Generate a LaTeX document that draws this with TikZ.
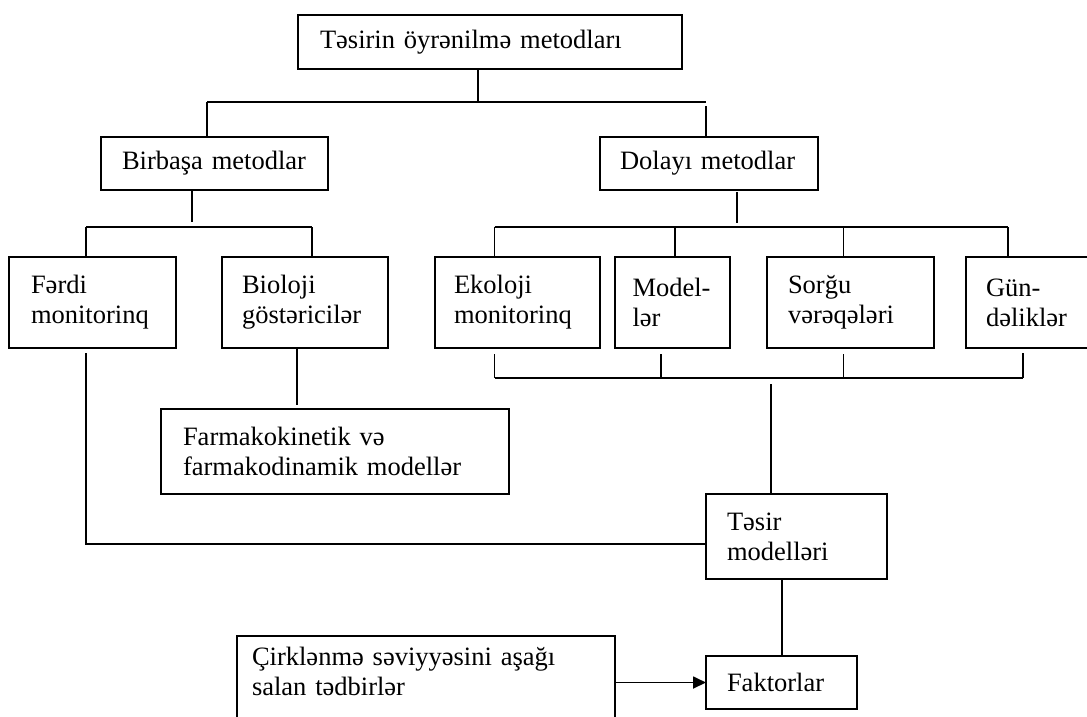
\documentclass[tikz,border=0pt]{standalone}
\usepackage{fontspec}
\setmainfont{Liberation Serif}
\usetikzlibrary{arrows.meta}
\begin{document}
\begin{tikzpicture}[x=1pt,y=-1pt,
  every node/.style={outer sep=0pt},
  box/.style={draw, line width=1.8pt, anchor=north west, align=left,
    inner ysep=0pt, font=\fontsize{26.5}{30}\selectfont},
  link/.style={line width=1.8pt},
  arrow/.style={link, -{Triangle[length=13pt,width=12pt]}}]
\useasboundingbox (0,0) rectangle (1087,716);
\fill[white] (0,0) rectangle (1087,716);

% boxes
\node[box, inner xsep=22pt, text width=340pt, minimum height=54pt] (top) at (298,15) {Təsirin öyrənilmə metodları};
\node[box, inner xsep=21pt, text width=185pt, minimum height=53pt] (birb) at (101,137) {Birbaşa metodlar};
\node[box, inner xsep=20pt, text width=178pt, minimum height=53pt] (dolay) at (600,137) {Dolayı metodlar};

\node[box, inner xsep=22pt, text width=123pt, minimum height=91pt] (ferdi) at (9,257) {Fərdi\\monitorinq};
\node[box, inner xsep=20pt, text width=126pt, minimum height=91pt] (bio) at (222,257) {Bioloji\\göstəricilər};
\node[box, inner xsep=19pt, text width=127pt, minimum height=91pt] (eko) at (435,257) {Ekoloji\\monitorinq};
\node[box, inner xsep=17.5pt, text width=80pt, minimum height=91pt] (model) at (615,257) {\mbox{Model-}\\lər};
\node[box, inner xsep=21pt, text width=125pt, minimum height=91pt] (sorgu) at (767,257) {Sorğu\\vərəqələri};
\node[box, inner xsep=20pt, text width=84pt, minimum height=91pt] (gun) at (966,257) {\mbox{Gün-}\\dəliklər};

\node[box, inner xsep=22pt, text width=304pt, minimum height=85pt] (farm) at (161,409) {Farmakokinetik və\\farmakodinamik modellər};
\node[box, inner xsep=21pt, text width=139pt, minimum height=85pt] (tesir) at (706,494) {Təsir\\modelləri};
\node[box, inner xsep=21pt, text width=109pt, minimum height=53pt] (fakt) at (706,656) {Faktorlar};
\node[box, draw=none, inner xsep=15pt, text width=348pt, minimum height=71pt] (cirk) at (237,636) {Çirklənmə səviyyəsini aşağı\\salan tədbirlər};
% the lower box runs past the bottom edge
\draw[link] ([yshift=-40pt]cirk.south west) -- (cirk.north west) -- (cirk.north east) -- ([yshift=-40pt]cirk.south east);

% junction points
\coordinate (jT) at (478,102);
\coordinate (jTL) at (207,102);
\coordinate (jTR) at (706,102);
\coordinate (jB) at (192,227);
\coordinate (jBL) at (86,227);
\coordinate (jBR) at (312,227);
\coordinate (jD) at (737,227);
\coordinate (jD1) at (494.5,227);
\coordinate (jD2) at (675,227);
\coordinate (jD3) at (843.5,227);
\coordinate (jD4) at (1008,227);
\coordinate (jE1) at (494.5,378);
\coordinate (jE2) at (661,378);
\coordinate (jE3) at (843.5,378);
\coordinate (jE4) at (1023,378);
\coordinate (jS) at (771,378);
\coordinate (jF) at (86,544);
\coordinate (jBio) at (297,0);
\coordinate (jFk) at (782,0);

% top level
\draw[link] (top.south -| jT) -- (jT);
\draw[link] (jTL) -- (jTR);
\draw[link] (jTL) -- (jTL |- birb.north);
\draw[link, shorten <=4pt] (jTR) -- (jTR |- dolay.north);

% direct methods
\draw[link, shorten >=5pt] (birb.south -| jB) -- (jB);
\draw[link] (jBL) -- (jBR);
\draw[link] (jBL) -- (jBL |- ferdi.north);
\draw[link] (jBR) -- (jBR |- bio.north);

% indirect methods
\draw[link, shorten <=2pt, shorten >=4pt] (dolay.south -| jD) -- (jD);
\draw[link] (jD1) -- (jD4);
\draw[link] (jD1) -- (jD1 |- eko.north);
\draw[link] (jD2) -- (jD2 |- model.north);
\draw[link] (jD3) -- (jD3 |- sorgu.north);
\draw[link] (jD4) -- (jD4 |- gun.north);

\draw[link, shorten <=6pt] (eko.south -| jE1) -- (jE1);
\draw[link, shorten <=6pt] (model.south -| jE2) -- (jE2);
\draw[link, shorten <=6pt] (sorgu.south -| jE3) -- (jE3);
\draw[link, shorten <=5pt] (gun.south -| jE4) -- (jE4);
\draw[link] (jE1) -- (jE4);
\draw[link, shorten <=6pt] (jS) -- (jS |- tesir.north);

% lower part
\draw[link, shorten >=4pt] (bio.south -| jBio) -- (farm.north -| jBio);
\draw[link, shorten <=5pt] (ferdi.south -| jF) -- (jF) -- (jF -| tesir.west);
\draw[link] (tesir.south -| jFk) -- (fakt.north -| jFk);
\draw[arrow] (fakt.west -| cirk.east) -- (fakt.west);
\end{tikzpicture}
\end{document}
